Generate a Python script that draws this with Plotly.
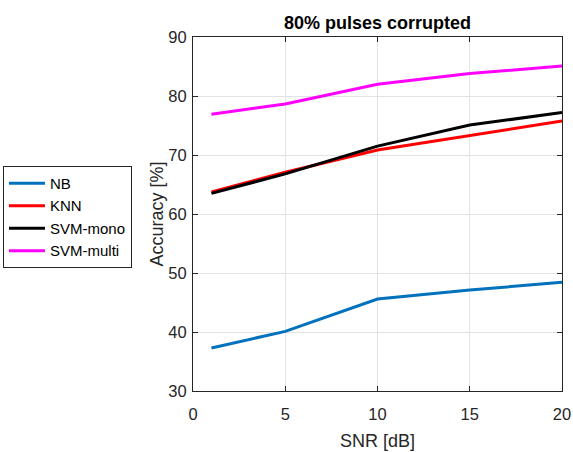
import plotly.graph_objects as go

snr = [1, 5, 10, 15, 20]
nb = [37.3, 40.1, 45.6, 47.1, 48.45]
knn = [63.75, 67.07, 70.85, 73.3, 75.75]
svm_mono = [63.5, 66.8, 71.5, 75.07, 77.2]
svm_multi = [76.9, 78.65, 82.0, 83.8, 85.07]

series = [
    ("NB", nb, "#0072BD"),
    ("KNN", knn, "#FF0000"),
    ("SVM-mono", svm_mono, "#000000"),
    ("SVM-multi", svm_multi, "#FF00FF"),
]

fig = go.Figure()
for name, vals, col in series:
    fig.add_trace(go.Scatter(x=snr, y=vals, mode="lines", name=name,
                             line=dict(color=col, width=3)))

FONT = "Liberation Sans, Arial"
axis_common = dict(
    showline=True, linecolor="#262626", linewidth=1, mirror="ticks",
    ticks="inside", ticklen=5, tickcolor="#262626",
    showgrid=True, gridcolor="#e3e3e3", gridwidth=1, zeroline=False,
    automargin=False,
    tickfont=dict(size=16.5, color="#262626", family=FONT),
)

fig.update_layout(
    width=573, height=452,
    margin=dict(l=193, r=11, t=37, b=61, autoexpand=False),
    paper_bgcolor="white", plot_bgcolor="white",
    font=dict(family=FONT, color="#262626"),
    title=dict(text="<b>80% pulses corrupted</b>", x=0.5, xref="paper",
               xanchor="center", y=0.95, yanchor="middle",
               font=dict(size=18, color="#000000")),
    xaxis=dict(range=[0, 20], tickvals=[0, 5, 10, 15, 20],
               ticklabelstandoff=8,
               title=dict(text="SNR [dB]", font=dict(size=18), standoff=12),
               **axis_common),
    yaxis=dict(range=[30, 90], tickvals=[30, 40, 50, 60, 70, 80, 90],
               ticklabelstandoff=2,
               title=dict(text="Accuracy [%]", font=dict(size=18), standoff=0),
               **axis_common),
    legend=dict(x=0.0052, y=0.633, xref="container", yref="container",
                xanchor="left", yanchor="top",
                bordercolor="#262626", borderwidth=1, bgcolor="white",
                font=dict(size=15, color="#000000"), itemwidth=36),
    showlegend=True,
)

fig.write_html("out.html")
